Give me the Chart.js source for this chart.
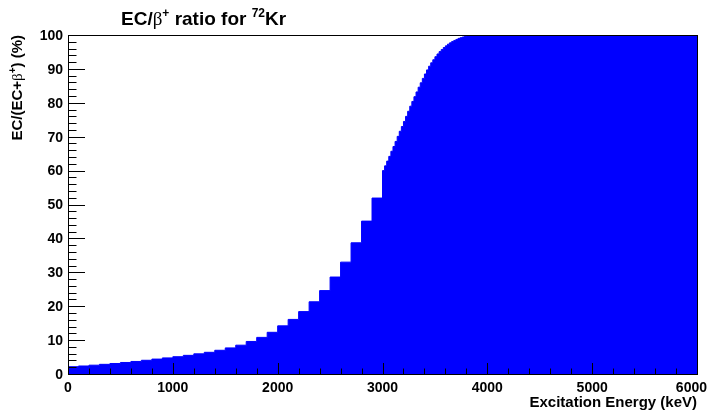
<!DOCTYPE html>
<html>
<head>
<meta charset="utf-8">
<script src="https://cdn.jsdelivr.net/npm/chart.js@4"></script>
<style>
html,body{margin:0;padding:0;background:#fff;}
#wrap{width:716px;height:411px;position:relative;}
</style>
</head>
<body>
<div id="wrap"><canvas id="c" width="716" height="411"></canvas></div>
<script>
// ---- data (bin low edges in keV, EC/(EC+beta+) in %) ----
const coarseEdges = [0,100,200,300,400,500,600,700,800,900,1000,1100,1200,1300,1400,1500,1600,1700,1800,1900,2000,2100,2200,2300,2400,2500,2600,2700,2800,2900];
const coarseValues = [2.15,2.36,2.6,2.85,3.1,3.4,3.7,4.05,4.4,4.75,5.1,5.5,5.95,6.4,7.0,7.7,8.5,9.6,10.8,12.3,14.2,16.1,18.4,21.3,24.6,28.6,33.0,38.7,45.1,51.9];
const fineEdges = [3000,3020,3040,3060,3080,3100,3120,3140,3160,3180,3200,3220,3240,3260,3280,3300,3320,3340,3360,3380,3400,3420,3440,3460,3480,3500,3520,3540,3560,3580,3600,3620,3640,3660,3680,3700,3720,3740,3760,3780,3800,3820,3840,3860];
const fineValues = [60.0,61.4,62.8,64.2,65.7,67.1,68.6,70.1,71.6,73.0,74.5,76.0,77.5,79.0,80.4,81.8,83.2,84.6,85.9,87.2,88.5,89.7,90.8,91.8,92.7,93.6,94.4,95.1,95.7,96.3,96.8,97.3,97.7,98.1,98.4,98.7,99.0,99.2,99.4,99.6,99.7,99.8,99.9,99.95];
const tailEdges = [3880];
const tailValues = [100];
const xMax = 6000;
const xTickLabels = ['0','1000','2000','3000','4000','5000','6000'];
const yTickLabels = ['0','10','20','30','40','50','60','70','80','90','100'];

const edges = coarseEdges.concat(fineEdges, tailEdges);
const values = coarseValues.concat(fineValues, tailValues);
const points = edges.map((e,i)=>({x:e,y:values[i]}));
points.push({x:xMax,y:values[values.length-1]});

const BOLD = 'bold 14px "Liberation Sans", Arial, Helvetica, sans-serif';

function richText(ctx, x, y, segs, align){
  let w = 0;
  segs.forEach(s=>{ctx.font=s.font; s.w=ctx.measureText(s.t).width; w+=s.w;});
  let cx = align==='right' ? x-w : x;
  ctx.textBaseline='alphabetic'; ctx.textAlign='left';
  segs.forEach(s=>{ctx.font=s.font; ctx.fillText(s.t, cx, y+(s.dy||0)); cx+=s.w;});
}

const decor = {
  id:'decor',
  afterDatasetsDraw(chart){
    const ctx = chart.ctx, xs = chart.scales.x, ys = chart.scales.y, a = chart.chartArea;
    ctx.save();
    ctx.strokeStyle='#000'; ctx.lineWidth=1;
    ctx.strokeRect(Math.round(a.left)+0.5, Math.round(a.top)+0.5, Math.round(a.right-a.left), Math.round(a.bottom-a.top));
    ctx.beginPath();
    for(let v=0; v<=xMax; v+=200){
      const px = Math.round(xs.getPixelForValue(v))+0.5;
      const len = (v%1000===0)?11:5.5;
      ctx.moveTo(px, a.bottom); ctx.lineTo(px, a.bottom-len);
    }
    for(let v=0; v<=100; v+=2){
      const py = Math.round(ys.getPixelForValue(v))+0.5;
      const len = (v%10===0)?17:8.5;
      ctx.moveTo(a.left, py); ctx.lineTo(a.left+len, py);
    }
    ctx.stroke();
    ctx.restore();
  },
  afterDraw(chart){
    const ctx = chart.ctx, xs = chart.scales.x, ys = chart.scales.y, a = chart.chartArea;
    ctx.save();
    ctx.fillStyle='#000';
    ctx.font = BOLD;
    ctx.textAlign='center'; ctx.textBaseline='top';
    xTickLabels.forEach(l=>{
      let px = xs.getPixelForValue(Number(l));
      const w = ctx.measureText(l).width;
      if(px + w/2 > 707) px = 707 - w/2;
      ctx.fillText(l, px, 381);
    });
    ctx.textAlign='right'; ctx.textBaseline='middle';
    yTickLabels.forEach(l=>{
      ctx.fillText(l, a.left-5, ys.getPixelForValue(Number(l))+1);
    });
    const TF = 'bold 15px "Liberation Sans", Arial, sans-serif';
    ctx.textAlign='right'; ctx.textBaseline='alphabetic';
    ctx.font = TF;
    ctx.fillText('Excitation Energy (keV)', a.right, 407);
    ctx.save();
    ctx.translate(22, a.top);
    ctx.rotate(-Math.PI/2);
    richText(ctx, 0, 0, [
      {t:'EC/(EC+', font:TF},
      {t:'β', font:'15px "Liberation Serif", serif'},
      {t:'+', font:'bold 10px "Liberation Sans", Arial, sans-serif', dy:-6},
      {t:') (%)', font:TF}
    ], 'right');
    ctx.restore();
    const HF = 'bold 19px "Liberation Sans", Arial, sans-serif';
    richText(ctx, 121, 25, [
      {t:'EC/', font:HF},
      {t:'β', font:'19px "Liberation Serif", serif'},
      {t:'+', font:'bold 12px "Liberation Sans", Arial, sans-serif', dy:-8},
      {t:' ratio for ', font:HF},
      {t:'72', font:'bold 12px "Liberation Sans", Arial, sans-serif', dy:-8},
      {t:'Kr', font:HF}
    ], 'left');
    ctx.restore();
  }
};

new Chart(document.getElementById('c'), {
  type:'line',
  data:{datasets:[{
    data:points,
    stepped:'before',
    fill:'origin',
    backgroundColor:'#0000ff',
    borderColor:'#0000ff',
    borderWidth:1,
    pointRadius:0,
    tension:0
  }]},
  options:{
    responsive:false,
    animation:false,
    events:[],
    layout:{padding:{left:68,right:19,top:35,bottom:37}},
    plugins:{legend:{display:false},tooltip:{enabled:false},title:{display:false}},
    scales:{
      x:{type:'linear',min:0,max:xMax,display:false},
      y:{type:'linear',min:0,max:100,display:false}
    }
  },
  plugins:[decor]
});
</script>
</body>
</html>
